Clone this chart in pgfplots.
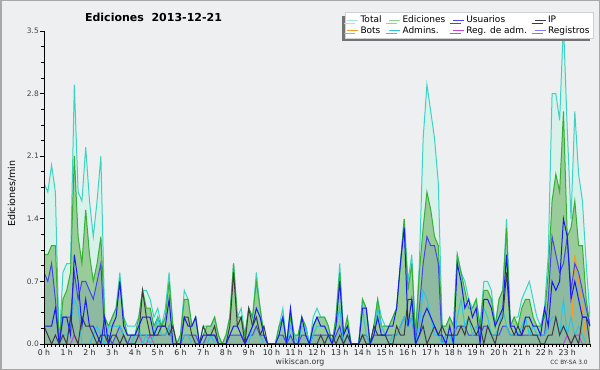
\documentclass[border=0pt]{standalone}
\usepackage{fontspec}
\setmainfont{DejaVu Sans}
\usepackage{pgfplots}
\usepackage{pgfplotstable}
\pgfplotsset{compat=1.18}
\usetikzlibrary{shadows}

\definecolor{bgc}{HTML}{EEEFF1}
\definecolor{framec}{HTML}{A8A8A8}
\definecolor{gridc}{HTML}{C8C8C8}
\definecolor{labc}{HTML}{444444}
\definecolor{totline}{HTML}{3CD3C3}
\definecolor{totfill}{HTML}{D8F1EA}
\definecolor{totleg}{HTML}{A6E6DE}
\definecolor{edline}{HTML}{34B034}
\definecolor{edfill}{HTML}{99CC99}
\definecolor{edleg}{HTML}{8ED68E}
\definecolor{usline}{HTML}{4646E6}
\definecolor{usfill}{HTML}{8EBAA2}
\definecolor{ipline}{HTML}{3C3C3C}
\definecolor{botline}{HTML}{FF9A1E}
\definecolor{admline}{HTML}{2CC4E2}
\definecolor{raline}{HTML}{CC44DD}
\definecolor{regline}{HTML}{1A1AF0}
\definecolor{regleg}{HTML}{7B7BF2}
\definecolor{legb}{HTML}{D0D0D0}

% Total
\pgfplotstableread[row sep=\\, header=false]{1.8\\1.7\\2.0\\1.7\\0.0\\0.8\\
0.9\\0.9\\2.9\\1.7\\1.6\\2.2\\
1.6\\1.2\\1.6\\2.1\\0.3\\0.2\\
0.3\\0.4\\0.8\\0.3\\0.2\\0.2\\
0.2\\0.3\\0.6\\0.6\\0.5\\0.3\\
0.4\\0.2\\0.4\\0.8\\0.2\\0.0\\
0.1\\0.6\\0.5\\0.2\\0.3\\0.0\\
0.2\\0.2\\0.2\\0.3\\0.1\\0.0\\
0.1\\0.3\\0.9\\0.3\\0.4\\0.1\\
0.4\\0.3\\0.8\\0.4\\0.1\\0.0\\
0.0\\0.0\\0.2\\0.4\\0.0\\0.4\\
0.1\\0.1\\0.3\\0.2\\0.0\\0.3\\
0.4\\0.3\\0.3\\0.2\\0.0\\0.3\\
0.9\\0.1\\0.3\\0.0\\0.0\\0.0\\
0.5\\0.4\\0.0\\0.2\\0.5\\0.3\\
0.2\\0.2\\0.3\\0.4\\0.9\\1.4\\
0.7\\1.0\\0.1\\0.9\\2.3\\2.9\\
2.6\\2.3\\1.8\\0.2\\0.2\\0.3\\
0.2\\1.0\\0.8\\0.7\\0.5\\0.4\\
0.5\\0.2\\0.7\\0.7\\0.6\\0.2\\
0.5\\0.6\\1.4\\0.2\\0.3\\0.3\\
0.5\\0.6\\0.7\\0.5\\0.3\\0.2\\
0.4\\1.0\\2.8\\2.8\\2.5\\3.6\\
2.4\\1.4\\2.6\\1.9\\1.6\\0.9\\
0.3\\}\Ttab

% Ediciones
\pgfplotstableread[row sep=\\, header=false]{1.0\\1.0\\1.1\\1.1\\0.0\\0.5\\
0.6\\0.8\\2.1\\1.2\\0.9\\1.5\\
1.0\\0.7\\0.9\\1.2\\0.3\\0.2\\
0.3\\0.4\\0.7\\0.3\\0.1\\0.1\\
0.1\\0.3\\0.6\\0.4\\0.4\\0.2\\
0.3\\0.2\\0.3\\0.7\\0.2\\0.0\\
0.1\\0.5\\0.5\\0.2\\0.3\\0.0\\
0.1\\0.2\\0.2\\0.3\\0.1\\0.0\\
0.1\\0.3\\0.9\\0.3\\0.3\\0.1\\
0.4\\0.3\\0.7\\0.4\\0.1\\0.0\\
0.0\\0.0\\0.2\\0.3\\0.0\\0.3\\
0.1\\0.1\\0.3\\0.2\\0.0\\0.2\\
0.3\\0.3\\0.3\\0.2\\0.0\\0.3\\
0.8\\0.1\\0.3\\0.0\\0.0\\0.0\\
0.5\\0.4\\0.0\\0.2\\0.5\\0.2\\
0.2\\0.2\\0.3\\0.4\\0.9\\1.4\\
0.6\\0.9\\0.1\\0.8\\1.3\\1.7\\
1.5\\1.2\\1.1\\0.2\\0.2\\0.3\\
0.2\\1.0\\0.8\\0.6\\0.4\\0.4\\
0.5\\0.2\\0.6\\0.6\\0.5\\0.2\\
0.5\\0.6\\1.3\\0.2\\0.3\\0.2\\
0.4\\0.5\\0.5\\0.3\\0.2\\0.2\\
0.3\\0.8\\1.6\\1.9\\1.7\\2.6\\
1.2\\1.3\\1.6\\1.1\\1.1\\0.5\\
0.2\\}\Etab

% Usuarios
\pgfplotstableread[row sep=\\, header=false]{0.8\\0.7\\0.9\\0.5\\0.0\\0.3\\
0.3\\0.3\\0.8\\0.5\\0.7\\0.7\\
0.6\\0.5\\0.7\\0.9\\0.1\\0.1\\
0.0\\0.1\\0.2\\0.1\\0.0\\0.1\\
0.1\\0.1\\0.1\\0.1\\0.1\\0.1\\
0.1\\0.1\\0.1\\0.2\\0.0\\0.0\\
0.0\\0.1\\0.1\\0.1\\0.1\\0.0\\
0.0\\0.1\\0.1\\0.1\\0.0\\0.0\\
0.0\\0.1\\0.1\\0.1\\0.1\\0.0\\
0.1\\0.1\\0.2\\0.1\\0.1\\0.0\\
0.0\\0.0\\0.1\\0.1\\0.0\\0.1\\
0.0\\0.0\\0.1\\0.1\\0.0\\0.1\\
0.1\\0.1\\0.1\\0.1\\0.0\\0.1\\
0.2\\0.0\\0.1\\0.0\\0.0\\0.0\\
0.1\\0.1\\0.0\\0.1\\0.1\\0.1\\
0.1\\0.1\\0.1\\0.1\\0.2\\0.3\\
0.2\\0.3\\0.0\\0.4\\0.9\\1.2\\
1.1\\1.1\\0.9\\0.0\\0.1\\0.1\\
0.1\\0.2\\0.2\\0.2\\0.1\\0.1\\
0.1\\0.1\\0.2\\0.2\\0.1\\0.1\\
0.1\\0.2\\0.2\\0.1\\0.1\\0.1\\
0.1\\0.1\\0.1\\0.1\\0.1\\0.1\\
0.1\\0.5\\1.2\\1.0\\0.8\\0.9\\
1.2\\0.6\\0.9\\0.8\\0.6\\0.4\\
0.2\\}\Utab

% Registros
\pgfplotstableread[row sep=\\, header=false]{0.2\\0.2\\0.2\\0.4\\0.0\\0.3\\
0.3\\0.1\\1.0\\0.7\\0.2\\0.5\\
0.2\\0.2\\0.1\\0.0\\0.3\\0.0\\
0.2\\0.3\\0.7\\0.2\\0.1\\0.1\\
0.1\\0.2\\0.3\\0.3\\0.3\\0.1\\
0.2\\0.2\\0.2\\0.5\\0.0\\0.0\\
0.0\\0.3\\0.2\\0.2\\0.3\\0.0\\
0.1\\0.1\\0.1\\0.1\\0.0\\0.0\\
0.0\\0.1\\0.2\\0.2\\0.1\\0.0\\
0.1\\0.2\\0.4\\0.3\\0.1\\0.0\\
0.0\\0.0\\0.1\\0.3\\0.0\\0.4\\
0.0\\0.0\\0.3\\0.1\\0.0\\0.2\\
0.3\\0.2\\0.2\\0.1\\0.0\\0.2\\
0.7\\0.1\\0.2\\0.0\\0.0\\0.0\\
0.4\\0.4\\0.0\\0.1\\0.3\\0.1\\
0.1\\0.2\\0.2\\0.4\\0.9\\1.3\\
0.2\\0.5\\0.0\\0.1\\0.3\\0.4\\
0.3\\0.2\\0.1\\0.1\\0.0\\0.2\\
0.0\\0.9\\0.7\\0.4\\0.5\\0.3\\
0.4\\0.0\\0.5\\0.5\\0.4\\0.2\\
0.3\\0.4\\1.0\\0.2\\0.2\\0.1\\
0.1\\0.3\\0.3\\0.2\\0.2\\0.1\\
0.4\\0.2\\0.7\\0.6\\0.7\\1.4\\
1.2\\0.5\\0.7\\0.5\\0.3\\0.3\\
0.2\\}\Rtab

% IP
\pgfplotstableread[row sep=\\, header=false]{0.2\\0.1\\0.0\\0.1\\0.0\\0.1\\
0.0\\0.3\\0.1\\0.0\\0.3\\0.2\\
0.2\\0.1\\0.0\\0.1\\0.1\\0.0\\
0.1\\0.1\\0.0\\0.1\\0.0\\0.0\\
0.0\\0.1\\0.6\\0.3\\0.1\\0.1\\
0.1\\0.2\\0.2\\0.1\\0.2\\0.0\\
0.0\\0.3\\0.3\\0.1\\0.0\\0.0\\
0.2\\0.1\\0.1\\0.2\\0.0\\0.0\\
0.0\\0.2\\0.8\\0.2\\0.3\\0.0\\
0.4\\0.2\\0.3\\0.1\\0.2\\0.0\\
0.0\\0.0\\0.0\\0.0\\0.0\\0.0\\
0.0\\0.0\\0.0\\0.0\\0.0\\0.0\\
0.0\\0.1\\0.0\\0.1\\0.1\\0.0\\
0.1\\0.0\\0.1\\0.0\\0.0\\0.0\\
0.1\\0.0\\0.0\\0.2\\0.1\\0.1\\
0.1\\0.0\\0.0\\0.2\\0.1\\0.1\\
0.5\\0.5\\0.0\\0.1\\0.2\\0.0\\
0.1\\0.2\\0.1\\0.2\\0.1\\0.1\\
0.1\\0.1\\0.2\\0.1\\0.3\\0.2\\
0.1\\0.2\\0.0\\0.2\\0.1\\0.0\\
0.2\\0.3\\0.8\\0.2\\0.1\\0.2\\
0.1\\0.2\\0.2\\0.1\\0.1\\0.0\\
0.0\\0.1\\0.1\\0.3\\0.1\\0.2\\
0.1\\0.0\\0.1\\0.0\\0.3\\0.3\\
0.0\\}\Itab

% Admins
\pgfplotstableread[row sep=\\, header=false]{0.0\\0.0\\0.0\\0.0\\0.0\\0.1\\
0.1\\0.2\\0.5\\0.4\\0.0\\0.0\\
0.0\\0.1\\0.2\\0.1\\0.0\\0.2\\
0.2\\0.2\\0.2\\0.1\\0.0\\0.0\\
0.1\\0.2\\0.0\\0.1\\0.0\\0.1\\
0.3\\0.1\\0.1\\0.2\\0.0\\0.0\\
0.0\\0.1\\0.1\\0.0\\0.0\\0.0\\
0.0\\0.0\\0.1\\0.0\\0.0\\0.0\\
0.0\\0.0\\0.0\\0.0\\0.0\\0.0\\
0.0\\0.2\\0.3\\0.1\\0.0\\0.0\\
0.0\\0.0\\0.1\\0.3\\0.0\\0.2\\
0.1\\0.0\\0.2\\0.2\\0.0\\0.1\\
0.2\\0.2\\0.2\\0.1\\0.0\\0.2\\
0.4\\0.0\\0.1\\0.0\\0.0\\0.0\\
0.4\\0.1\\0.0\\0.1\\0.4\\0.2\\
0.1\\0.0\\0.1\\0.1\\0.2\\0.3\\
0.2\\0.3\\0.0\\0.2\\0.6\\0.5\\
0.3\\0.1\\0.1\\0.0\\0.1\\0.1\\
0.0\\0.3\\0.5\\0.2\\0.3\\0.1\\
0.2\\0.1\\0.4\\0.3\\0.1\\0.1\\
0.2\\0.4\\0.2\\0.1\\0.1\\0.1\\
0.2\\0.3\\0.1\\0.2\\0.1\\0.1\\
0.1\\0.2\\0.3\\0.3\\0.1\\0.5\\
0.1\\0.3\\0.1\\0.2\\0.1\\0.0\\
0.0\\}\Atab

\begin{document}
\begin{tikzpicture}
\fill[bgc] (0bp,0bp) rectangle (600bp,370bp);
\draw[framec, line width=1.5bp] (0.75bp,0.75bp) rectangle (599.25bp,369.25bp);
\begin{axis}[
  at={(44bp,26bp)}, anchor=south west,
  width=546bp, height=313bp, scale only axis,
  xmin=0, xmax=24, ymin=0, ymax=3.5,
  set layers, axis on top,
  axis x line=bottom, axis y line=left,
  axis line style={-, black, line width=0.9bp},
  xtick={0,1,...,23},
  xticklabels={0 h,1 h,2 h,3 h,4 h,5 h,6 h,7 h,8 h,9 h,10 h,11 h,12 h,13 h,14 h,15 h,16 h,17 h,18 h,19 h,20 h,21 h,22 h,23 h},
  minor xtick={0,0.1666667,...,24.05},
  ytick={0,0.7,1.4,2.1,2.8,3.5},
  minor y tick num=3,
  ymajorgrids,
  major grid style={/pgfplots/on layer=axis background, color=gridc, line width=0.8bp},
  tick align=outside,
  major tick length=4bp, minor tick length=3bp,
  tick style={black, line width=0.7bp},
  /pgf/number format/assume math mode=true,
  yticklabel style={/pgf/number format/fixed, /pgf/number format/fixed zerofill, /pgf/number format/precision=1, font=\fontsize{7.5bp}{9bp}\selectfont, text=labc, inner sep=1bp},
  xticklabel style={font=\fontsize{7.8bp}{9bp}\selectfont, text=black!85, inner sep=1bp},
  ylabel={Ediciones/min},
  every axis y label/.style={at={(axis description cs:-0.0586,0.48)}, rotate=90, anchor=center, font=\fontsize{9.5bp}{11bp}\selectfont},
  legend columns=4,
  legend cell align=left,
  legend style={at={(axis description cs:1.006,1.0597)}, anchor=north east, fill=white, draw=legb, line width=0.5bp, font=\fontsize{9bp}{10bp}\selectfont, inner sep=1.5bp, row sep=-2bp, drop shadow={shadow xshift=-3bp, shadow yshift=-3bp, fill=black!55, opacity=1}, /tikz/every even column/.append style={column sep=5bp}},
  legend image code/.code={\draw[#1, line width=1bp] (0bp,0bp) -- (11bp,0bp);},
]
% fills
\addplot[draw=none, fill=totfill, forget plot] table[x expr=\coordindex/6, y index=0, header=false]{\Ttab} \closedcycle;
\addplot[draw=none, fill=edfill, forget plot] table[x expr=\coordindex/6, y index=0, header=false]{\Etab} \closedcycle;
\addplot[draw=none, fill=usfill, forget plot] table[x expr=\coordindex/6, y index=0, header=false]{\Utab} \closedcycle;
% lines
\addplot[botline, line width=1bp, forget plot] coordinates {(0,0) (23.1667,0) (23.3333,1.0) (23.5,0.7) (23.6667,0.4) (23.8333,0) (24,0)};
\addplot[raline, line width=1bp, forget plot] coordinates {(0,0) (1.1667,0) (1.3333,0.1) (1.5,0) (4,0) (4.1667,0.1) (4.3333,0) (4.5,0) (4.6667,0.1) (4.8333,0) (22.8333,0) (23,0.1) (23.1667,0) (23.3333,0.1) (23.5,0.1) (23.6667,0) (24,0)};
\addplot[totline, line width=1bp, forget plot] table[x expr=\coordindex/6, y index=0, header=false]{\Ttab};
\addplot[edline, line width=1bp, forget plot] table[x expr=\coordindex/6, y index=0, header=false]{\Etab};
\addplot[usline, line width=1bp, forget plot] table[x expr=\coordindex/6, y index=0, header=false]{\Utab};
\addplot[admline, line width=1bp, forget plot] table[x expr=\coordindex/6, y index=0, header=false]{\Atab};
\addplot[ipline, line width=1bp, forget plot] table[x expr=\coordindex/6, y index=0, header=false]{\Itab};
\addplot[regline, line width=1bp, forget plot] table[x expr=\coordindex/6, y index=0, header=false]{\Rtab};
% legend
\addlegendimage{totleg}\addlegendentry{Total}
\addlegendimage{edleg}\addlegendentry{Ediciones}
\addlegendimage{usline}\addlegendentry{Usuarios}
\addlegendimage{ipline}\addlegendentry{IP}
\addlegendimage{botline}\addlegendentry{Bots}
\addlegendimage{admline}\addlegendentry{Admins.}
\addlegendimage{raline}\addlegendentry{Reg. de adm.}
\addlegendimage{regleg}\addlegendentry{Registros}
\end{axis}
\node[font=\bfseries\fontsize{11bp}{13bp}\selectfont, anchor=center] at (153.5bp,352.5bp) {Ediciones\ \ 2013-12-21};
\node[font=\fontsize{7.8bp}{9bp}\selectfont, anchor=center, text=black!80] at (300bp,8bp) {wikiscan.org};
\node[font=\fontsize{5.8bp}{7bp}\selectfont, anchor=center, text=black!80] at (569bp,8bp) {CC BY-SA 3.0};
\end{tikzpicture}
\end{document}
